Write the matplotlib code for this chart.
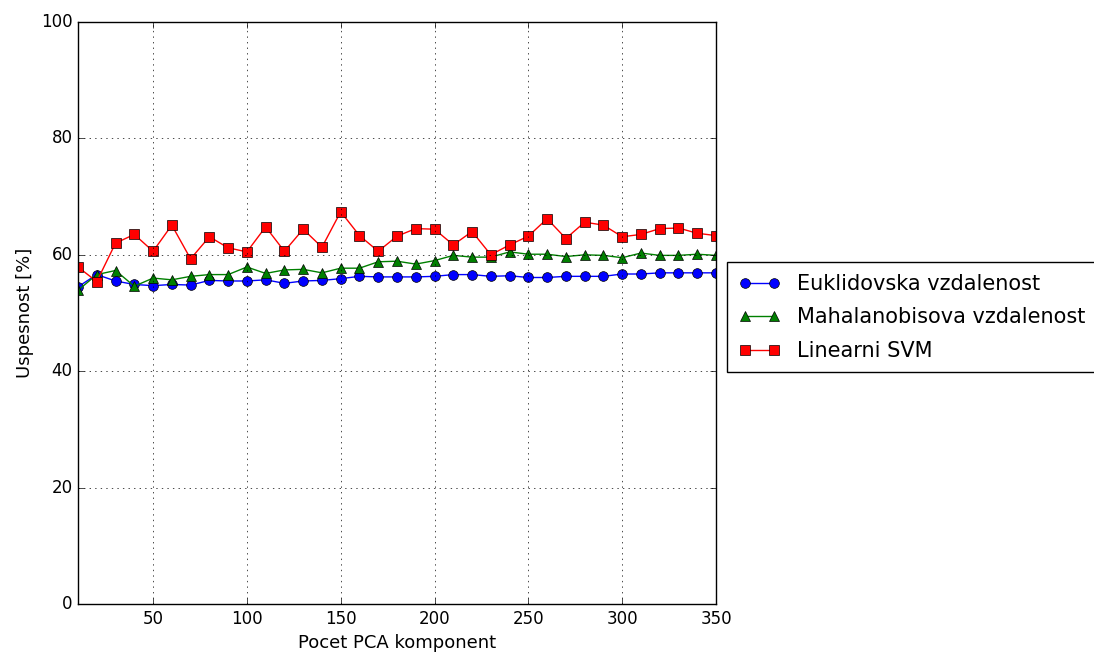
import numpy as np
import matplotlib
matplotlib.use('Agg')
import matplotlib.pyplot as plt

plt.style.use('classic')

# number of PCA components used
komponenty = list(range(10, 360, 10))

euklid = [54.5, 56.6, 55.5, 54.9, 54.7, 54.9, 54.8, 55.6, 55.5, 55.5,
          55.7, 55.1, 55.5, 55.6, 55.9, 56.3, 56.2, 56.2, 56.2, 56.3,
          56.6, 56.6, 56.3, 56.4, 56.1, 56.1, 56.3, 56.3, 56.3, 56.7,
          56.7, 56.9, 56.9, 56.9, 56.9]

mahalanobis = [53.9, 56.6, 57.3, 54.6, 56.0, 55.7, 56.3, 56.6, 56.6, 57.9,
               56.8, 57.4, 57.5, 56.9, 57.7, 57.7, 58.8, 58.9, 58.4, 59.0,
               59.9, 59.6, 59.6, 60.5, 60.1, 60.1, 59.7, 60.0, 59.9, 59.5,
               60.3, 59.9, 59.9, 60.1, 59.9]

svm = [57.9, 55.4, 62.0, 63.5, 60.6, 65.1, 59.3, 63.1, 61.2, 60.5,
       64.8, 60.6, 64.4, 61.3, 67.4, 63.3, 60.6, 63.2, 64.5, 64.4,
       61.7, 64.0, 60.0, 61.7, 63.2, 66.2, 62.8, 65.6, 65.1, 63.1,
       63.5, 64.5, 64.6, 63.7, 63.3]

fig = plt.figure(figsize=(10.94, 6.57), dpi=100, facecolor='white')
ax = fig.add_axes([78 / 1094, 1 - 604 / 657, (716 - 78) / 1094, (604 - 22) / 657])

ax.plot(komponenty, euklid, 'b-o', markersize=7, label='Euklidovska vzdalenost')
ax.plot(komponenty, mahalanobis, 'g-^', markersize=7, label='Mahalanobisova vzdalenost')
ax.plot(komponenty, svm, 'r-s', markersize=7, label='Linearni SVM')

ax.set_xlim(10, 350)
ax.set_ylim(0, 100)
ax.set_xticks([50, 100, 150, 200, 250, 300, 350])
ax.set_yticks([0, 20, 40, 60, 80, 100])
ax.grid(True)
ax.set_xlabel('Pocet PCA komponent', fontsize=13)
ax.set_ylabel('Uspesnost [%]', fontsize=13)

ax.legend(loc='upper left', bbox_to_anchor=(1.017, 0.587), fontsize=15,
          numpoints=2, borderaxespad=0, labelspacing=0.65, borderpad=0.55)

fig.savefig('out.png', dpi=100, facecolor='white')
